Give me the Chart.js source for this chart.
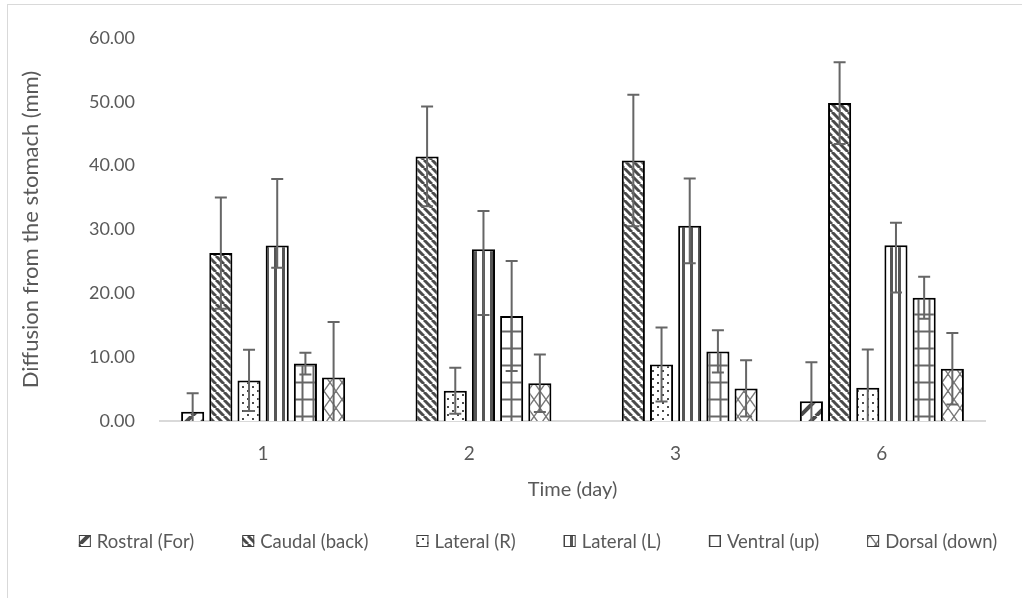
<!DOCTYPE html>
<html>
<head>
<meta charset="utf-8">
<script src="https://cdn.jsdelivr.net/npm/chart.js@4.4.1/dist/chart.umd.min.js"></script>
<style>
  html, body { margin: 0; padding: 0; background: #fff; }
  #wrap { width: 1022px; height: 598px; }
</style>
</head>
<body>
<div id="wrap"><canvas id="myChart" width="1022" height="598"></canvas></div>
<script>
const days = ['1', '2', '3', '6']
const seriesNames = ['Rostral (For)', 'Caudal (back)', 'Lateral (R)', 'Lateral (L)', 'Ventral (up)', 'Dorsal (down)']

const rostral = [1.45, 0, 0, 3.1]
const caudal = [26.3, 41.45, 40.8, 49.8]
const lateralR = [6.35, 4.75, 8.85, 5.2]
const lateralL = [27.5, 26.9, 30.6, 27.55]
const ventral = [9.0, 16.45, 10.9, 19.3]
const dorsal = [6.8, 5.9, 5.1, 8.2]

// error bars (plus / minus)
const rostralErr = [2.9, 0, 0, 6.1]
const caudalErr = [8.7, 7.8, 10.3, 6.4]
const lateralRErr = [4.8, 3.6, 5.8, 6.0]
const lateralLErrPlus = [10.4, 6.0, 7.4, 3.5]
const lateralLErrMinus = [3.5, 10.3, 5.9, 7.4]
const ventralErr = [1.7, 8.6, 3.3, 3.3]
const dorsalErr = [8.7, 4.5, 4.4, 5.6]

const yTicks = [0, 10, 20, 30, 40, 50, 60]

const textColor = '#595959'
const font = 'Lato'

// pattern fills, a bit like the Excel ones
function makePattern(kind) {
    const c = document.createElement('canvas')
    const x = c.getContext('2d')
    let w = 8, h = 8
    if (kind === 'wide') { w = 16; h = 16 }
    if (kind === 'dots') { w = 10; h = 8 }
    if (kind === 'grid') { w = 11; h = 17 }
    if (kind === 'diamond') { w = 12; h = 17 }
    c.width = w; c.height = h
    x.fillStyle = '#fff'
    x.fillRect(0, 0, w, h)
    x.strokeStyle = '#4a4a4a'
    x.fillStyle = '#4a4a4a'
    if (kind === 'wide') {
        x.lineWidth = 4
        for (let k = -w; k <= w; k += w) {
            x.beginPath(); x.moveTo(k, h); x.lineTo(k + w, 0); x.stroke()
        }
    } else if (kind === 'down') {
        x.lineWidth = 3
        for (let k = -w; k <= w; k += w) {
            x.beginPath(); x.moveTo(k, 0); x.lineTo(k + w, h); x.stroke()
        }
    } else if (kind === 'dots') {
        x.fillRect(2, 2, 2, 2)
        x.fillRect(7, 6, 2, 2)
    } else if (kind === 'vert') {
        x.fillStyle = '#555'
        x.fillRect(2, 0, 3, h)
    } else if (kind === 'grid') {
        x.strokeStyle = '#666'
        x.lineWidth = 2
        x.beginPath(); x.moveTo(5.5, 0); x.lineTo(5.5, h); x.stroke()
        x.beginPath(); x.moveTo(0, 8.5); x.lineTo(w, 8.5); x.stroke()
    } else if (kind === 'diamond') {
        x.strokeStyle = '#777'
        x.lineWidth = 1.3
        x.beginPath(); x.moveTo(0, 0); x.lineTo(w, h); x.stroke()
        x.beginPath(); x.moveTo(w, 0); x.lineTo(0, h); x.stroke()
    }
    return x.createPattern(c, 'repeat')
}

const values = [rostral, caudal, lateralR, lateralL, ventral, dorsal]
const errPlus = [rostralErr, caudalErr, lateralRErr, lateralLErrPlus, ventralErr, dorsalErr]
const errMinus = [rostralErr, caudalErr, lateralRErr, lateralLErrMinus, ventralErr, dorsalErr]
const kinds = ['wide', 'down', 'dots', 'vert', 'grid', 'diamond']

const datasets = seriesNames.map((name, i) => ({
    label: name,
    data: values[i],
    backgroundColor: makePattern(kinds[i]),
    borderColor: '#000',
    borderWidth: 2,
    categoryPercentage: 0.82,
    barPercentage: 0.82
}))

// draws the error bars on top of the bars
const errorBars = {
    id: 'errorBars',
    afterDatasetsDraw(chart) {
        const ctx = chart.ctx
        const y = chart.scales.y
        ctx.save()
        ctx.strokeStyle = '#666'
        ctx.lineWidth = 2
        chart.data.datasets.forEach((ds, i) => {
            const meta = chart.getDatasetMeta(i)
            meta.data.forEach((bar, j) => {
                const v = ds.data[j]
                const up = errPlus[i][j], dn = errMinus[i][j]
                if (!up && !dn) return
                const top = y.getPixelForValue(v + up)
                const lowVal = v - dn
                const bot = y.getPixelForValue(Math.max(0, lowVal))
                ctx.beginPath()
                ctx.moveTo(bar.x, top); ctx.lineTo(bar.x, bot)
                ctx.moveTo(bar.x - 6, top); ctx.lineTo(bar.x + 6, top)
                if (lowVal >= 0) { ctx.moveTo(bar.x - 6, bot); ctx.lineTo(bar.x + 6, bot) }
                ctx.stroke()
            })
        })
        ctx.restore()
    }
}

// legend drawn by hand so the spacing can be as wide as in the original
const wideLegend = {
    id: 'wideLegend',
    afterDraw(chart) {
        const ctx = chart.ctx
        const gap = 48, box = 12, boxGap = 6
        ctx.save()
        ctx.font = '18.5px ' + font
        const items = chart.data.datasets.map(ds => ({ ds, w: ctx.measureText(ds.label).width }))
        const total = items.reduce((s, it) => s + box + boxGap + it.w, 0) + gap * (items.length - 1)
        let x = 538 - total / 2
        const y = 541
        ctx.textBaseline = 'middle'
        items.forEach(it => {
            ctx.fillStyle = it.ds.backgroundColor
            ctx.fillRect(x, y - box / 2, box, box)
            ctx.strokeStyle = '#404040'
            ctx.lineWidth = 1
            ctx.strokeRect(x + 0.5, y - box / 2 + 0.5, box - 1, box - 1)
            ctx.fillStyle = textColor
            ctx.fillText(it.ds.label, x + box + boxGap, y + 1)
            x += box + boxGap + it.w + gap
        })
        ctx.restore()
    }
}

// light frame round the chart
const frame = {
    id: 'frame',
    beforeDraw(chart) {
        const ctx = chart.ctx
        ctx.save()
        ctx.strokeStyle = '#d9d9d9'
        ctx.lineWidth = 1
        ctx.strokeRect(7.5, 4.5, 1030, 620)
        ctx.restore()
    }
}

const ctx = document.getElementById('myChart')

new Chart(ctx, {
    type: 'bar',
    data: { labels: days, datasets: datasets },
    options: {
        responsive: false,
        animation: false,
        layout: { padding: { left: 18, right: 37, top: 38, bottom: 96 } },
        scales: {
            x: {
                grid: { display: false },
                border: { display: true, color: '#d9d9d9', width: 2 },
                ticks: { color: textColor, font: { family: font, size: 19 }, padding: 13 },
                title: { display: true, text: 'Time (day)', color: textColor, font: { family: font, size: 20 }, padding: { top: 0, bottom: 0 } },
                afterFit(scale) { scale.height = 81 }
            },
            y: {
                min: 0,
                max: 60,
                afterBuildTicks(scale) { scale.ticks = yTicks.map(v => ({ value: v })) },
                grid: { display: false },
                border: { display: false },
                ticks: { color: textColor, font: { family: font, size: 18 }, padding: 17, callback: v => v.toFixed(2) },
                title: { display: true, text: 'Diffusion from the stomach (mm)', color: textColor, font: { family: font, size: 22 }, padding: { top: 0, bottom: 4 } },
                afterFit(scale) { scale.width = 142 }
            }
        },
        plugins: {
            legend: { display: false },
            tooltip: { enabled: false }
        }
    },
    plugins: [errorBars, wideLegend, frame]
});
</script>
</body>
</html>
